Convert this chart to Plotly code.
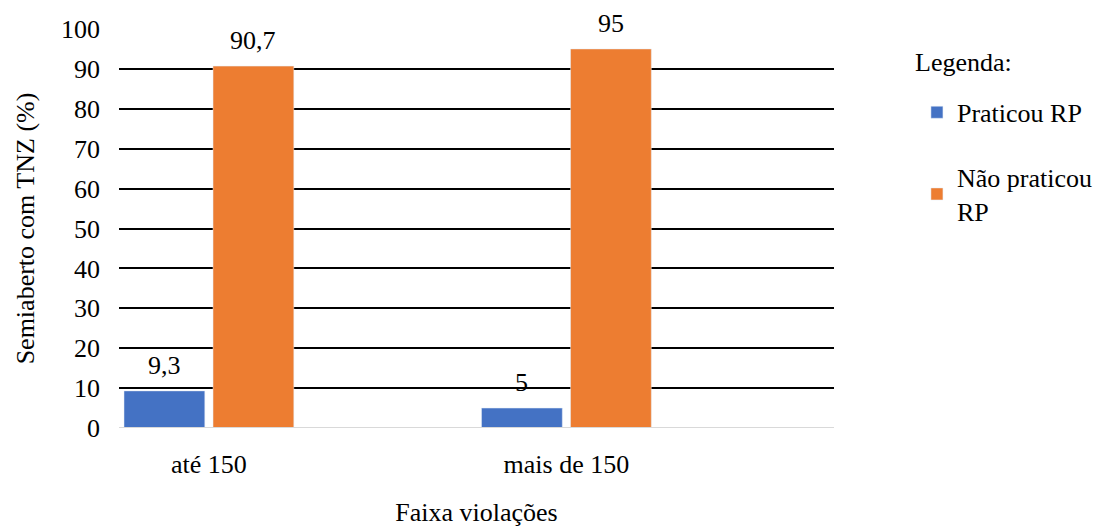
import plotly.graph_objects as go

categories = ["até 150", "mais de 150"]
praticou = [9.3, 5]
nao_praticou = [90.7, 95]
labels_praticou = ["9,3", "5"]
labels_nao = ["90,7", "95"]
y_ticks = list(range(0, 101, 10))

BLUE = "#4472C4"
ORANGE = "#ED7D31"
FONT = "Liberation Serif"
FS = 26

idx = list(range(len(categories)))
bw = 0.226
off1 = -0.486
off2 = off1 + bw + 0.023
center = off1 + bw + 0.0115

fig = go.Figure()
fig.add_trace(go.Bar(x=idx, y=praticou, name="Praticou RP", marker_color=BLUE,
                     width=bw, offset=off1, legendgroup="a"))
fig.add_trace(go.Bar(x=idx, y=nao_praticou, name="Não praticou<br>RP", marker_color=ORANGE,
                     width=bw, offset=off2, legendgroup="b"))

for i in idx:
    fig.add_annotation(x=i + off1 + bw / 2, y=praticou[i], text=labels_praticou[i],
                       showarrow=False, yanchor="bottom", yshift=9,
                       font=dict(family=FONT, size=FS, color="black"))
    fig.add_annotation(x=i + off2 + bw / 2, y=nao_praticou[i], text=labels_nao[i],
                       showarrow=False, yanchor="bottom", yshift=9,
                       font=dict(family=FONT, size=FS, color="black"))

fig.add_annotation(xref="paper", yref="paper", x=1.11, y=0.915, xanchor="left", yanchor="middle",
                   text="Legenda:", showarrow=False, font=dict(family=FONT, size=FS, color="black"))

fig.update_layout(
    width=1096, height=527,
    margin=dict(l=119, r=262, t=29, b=99, autoexpand=False),
    paper_bgcolor="white", plot_bgcolor="white",
    font=dict(family=FONT, size=FS, color="black"),
    barmode="overlay",
    showlegend=True,
    legend=dict(
        x=1.116, xanchor="left", y=0.85, yanchor="top",
        font=dict(family=FONT, size=FS),
        tracegroupgap=28,
        itemwidth=30,
        borderwidth=0,
        bgcolor="rgba(0,0,0,0)",
    ),
)
fig.update_xaxes(
    range=[-0.5, 1.5],
    tickmode="array",
    tickvals=[i + center for i in idx],
    ticktext=categories,
    showgrid=False, zeroline=False, showline=False, ticks="",
    ticklabelstandoff=18, automargin=False,
    tickfont=dict(family=FONT, size=FS),
    title=dict(text="Faixa violações", font=dict(family=FONT, size=FS), standoff=30),
)
fig.update_yaxes(
    range=[0, 100],
    tickmode="array", tickvals=y_ticks,
    showgrid=True, gridcolor="black", gridwidth=2,
    zeroline=False, showline=False, ticks="",
    ticklabelstandoff=18, automargin=False,
    tickfont=dict(family=FONT, size=FS),
    title=dict(text="Semiaberto com TNZ (%)", font=dict(family=FONT, size=FS), standoff=18),
)
fig.add_shape(type="line", xref="paper", yref="y", x0=0, x1=1, y0=0, y1=0,
              line=dict(color="#D9D9D9", width=2), layer="above")

fig.write_html("out.html")
